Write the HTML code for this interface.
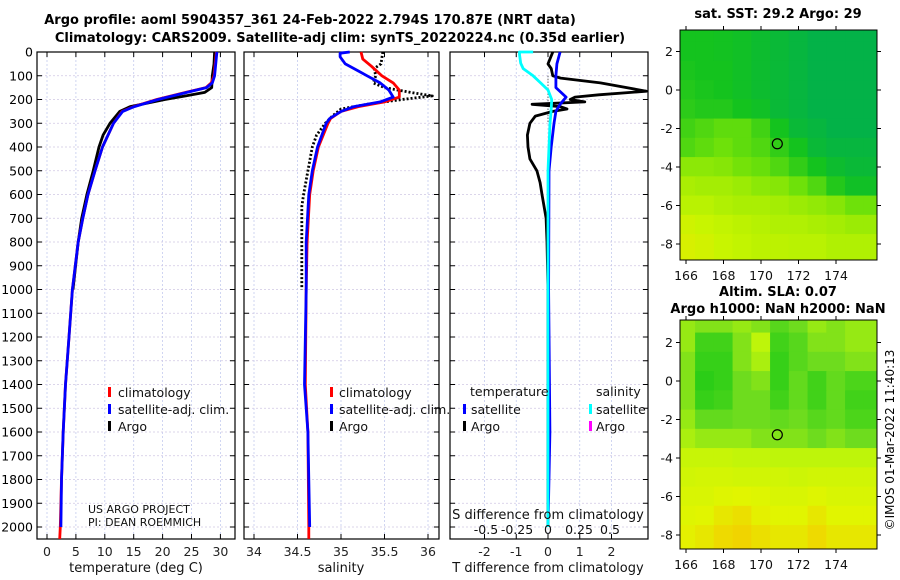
<!DOCTYPE html>
<html><head><meta charset="utf-8"><style>
body{margin:0;background:#fff;}
svg{display:block;font-family:"DejaVu Sans","Liberation Sans",sans-serif;}
</style></head><body>
<svg id="chart" width="900" height="580" viewBox="0 0 900 580">
<text x="310" y="24" text-anchor="middle" font-size="13" font-weight="bold">Argo profile: aoml 5904357_361 24-Feb-2022 2.794S 170.87E (NRT data)</text>
<text x="340" y="42" text-anchor="middle" font-size="13" font-weight="bold">Climatology: CARS2009. Satellite-adj clim: synTS_20220224.nc (0.35d earlier)</text>
<text x="778" y="18" text-anchor="middle" font-size="13" font-weight="bold">sat. SST: 29.2 Argo: 29</text>
<text x="778" y="296" text-anchor="middle" font-size="13" font-weight="bold">Altim. SLA: 0.07</text>
<text x="778" y="313" text-anchor="middle" font-size="13" font-weight="bold">Argo h1000: NaN h2000: NaN</text>
<text transform="translate(894,440) rotate(-90)" text-anchor="middle" font-size="12">©IMOS 01-Mar-2022 11:40:13</text>
<g id="g"></g>
</svg>
<script>
// ---------- data ----------
const depthTicks=[0,100,200,300,400,500,600,700,800,900,1000,1100,1200,1300,1400,1500,1600,1700,1800,1900,2000];
const tempTicks=[0,5,10,15,20,25,30];
const salTicks=[34,34.5,35,35.5,36];
const tdiffTicks=[-2,-1,0,1,2];
const sdiffTicks=[-0.5,-0.25,0,0.25,0.5];
const sdiffLabels=['-0.5','-0.25','0','0.25','0.5'];

const argoTDepth=[0,50,100,150,170,185,200,230,250,300,350,400,500,600,700,800,1000];
const argoT=[29.0,28.9,28.6,28.5,27.3,24,20.4,14.4,12.6,10.9,9.7,9.0,8.0,6.9,6.0,5.4,4.5];
const climDepth=[0,100,130,150,170,200,230,250,300,400,500,600,700,800,1000,1200,1400,1600,1800,2000,2050];
const climT=[29.3,28.9,28.4,27.5,24,19,15,13,11.5,9.6,8.3,7.1,6.2,5.4,4.4,3.8,3.2,2.8,2.5,2.3,2.2];
const satTDepth=[0,100,130,150,170,200,230,250,300,400,500,600,700,800,1000,1200,1400,1600,1800,2000];
const satT=[29.4,29.0,28.6,27.6,24.2,19.2,15.1,13.1,11.5,9.6,8.3,7.1,6.2,5.4,4.4,3.8,3.2,2.8,2.5,2.4];

const argoSDepth=[0,50,70,100,130,150,170,185,200,220,240,270,300,350,400,500,600,650,700,800,1000];
const argoS=[35.48,35.46,35.38,35.40,35.37,35.5,35.8,36.05,35.7,35.3,35.0,34.9,34.82,34.72,34.67,34.62,34.57,34.55,34.55,34.55,34.55];
const climSDepth=[0,30,60,100,130,160,190,210,230,250,280,300,400,500,600,800,1000,1400,1600,2000,2050];
const climS=[35.23,35.25,35.35,35.47,35.6,35.67,35.67,35.5,35.2,35.0,34.88,34.85,34.74,34.68,34.64,34.61,34.6,34.59,34.62,34.63,34.63];
const satSDepth=[0,5,20,50,80,100,130,160,190,210,230,250,280,300,400,500,600,800,1000,1400,1600,2000];
const satS=[35.1,34.99,34.99,35.05,35.2,35.3,35.45,35.55,35.6,35.45,35.15,35.0,34.87,34.83,34.73,34.67,34.63,34.6,34.6,34.58,34.62,34.64];

const argoTdDepth=[0,50,70,100,110,130,165,180,190,200,210,220,230,240,250,270,300,350,400,450,500,550,600,700,800,1000,2000];
const argoTd=[0.15,0,0.1,0.15,0.4,1.65,3.1,1.6,0.85,0.7,1.16,-0.5,0.38,0.6,0.15,-0.4,-0.57,-0.65,-0.63,-0.57,-0.35,-0.25,-0.19,-0.06,-0.03,0,0];
const satTdDepth=[0,50,100,150,190,220,250,300,400,500,1000,1600,2000];
const satTd=[0.38,0.28,0.25,0.25,0.57,0.38,0.25,0.19,0.1,0.03,0.02,0.06,0];
const satSdDepth=[0,0,10,47,70,100,130,160,200,250,300,500,1000,2000];
const satSd=[-0.12,-0.23,-0.23,-0.22,-0.2,-0.12,-0.06,0,0.03,0.025,0.016,0,0,0];

const mapLons=[166,167,168,169,170,171,172,173,174,175,176];
const mapLats=[3,2,1,0,-1,-2,-3,-4,-5,-6,-7,-8,-9];
const sstGrid=[
[.30,.30,.28,.25,.2,.15,.1,.05,.05,.05,.05],
[.30,.30,.28,.25,.2,.15,.1,.05,.05,.05,.05],
[.32,.3,.3,.25,.2,.15,.1,.05,.05,.05,.05],
[.35,.32,.3,.25,.2,.15,.1,.05,.05,.05,.05],
[.38,.35,.35,.3,.25,.15,.1,.05,.05,.05,.05],
[.45,.5,.55,.55,.45,.3,.15,.1,.05,.05,.05],
[.5,.55,.6,.55,.5,.4,.3,.15,.1,.1,.1],
[.7,.7,.68,.62,.58,.5,.4,.3,.2,.15,.15],
[.8,.78,.78,.75,.7,.68,.6,.5,.35,.25,.25],
[.85,.85,.82,.8,.8,.78,.75,.72,.68,.6,.6],
[.92,.9,.88,.86,.84,.82,.82,.8,.78,.75,.75],
[.95,.93,.9,.88,.86,.86,.85,.85,.82,.82,.82],
[.95,.93,.9,.88,.86,.86,.85,.85,.82,.82,.82]];
const slaGrid=[
[.5,.45,.45,.5,.45,.3,.4,.5,.45,.5,.5],
[.5,.2,.2,.45,.6,.2,.3,.45,.45,.5,.5],
[.45,.15,.15,.45,.55,.15,.3,.4,.4,.45,.45],
[.45,.1,.15,.4,.45,.15,.35,.2,.35,.25,.25],
[.45,.15,.2,.4,.4,.2,.35,.2,.35,.2,.2],
[.5,.35,.35,.4,.4,.35,.4,.3,.35,.25,.25],
[.55,.5,.5,.5,.45,.45,.45,.4,.45,.4,.4],
[.65,.65,.65,.62,.62,.6,.6,.6,.6,.6,.6],
[.7,.72,.72,.7,.7,.7,.68,.7,.7,.7,.7],
[.75,.75,.78,.8,.78,.75,.75,.78,.75,.75,.75],
[.78,.8,.85,.88,.82,.8,.8,.85,.8,.8,.8],
[.82,.85,.9,.92,.88,.85,.85,.9,.85,.85,.85],
[.82,.85,.9,.92,.88,.85,.85,.9,.85,.85,.85]];
const mapLonTicks=[166,168,170,172,174];
const mapLatTicks=[2,0,-2,-4,-6,-8];
const argoLon=170.87, argoLat=-2.794;

// ---------- drawing ----------
const NS='http://www.w3.org/2000/svg';
const G=document.getElementById('g');
function mk(tag,attrs,parent){const e=document.createElementNS(NS,tag);for(const k in attrs)e.setAttribute(k,attrs[k]);(parent||G).appendChild(e);return e;}
const Y0=52,YK=0.2375;
const yD=d=>Y0+d*YK;
const PB=539;

function panel(name,x0,x1,xs,xticks,labels,showY){
  const g=mk('g',{});
  
  
  xticks.forEach(t=>{const l=mk('line',{x1:xs(t),x2:xs(t),y1:Y0,y2:PB,stroke:'#c4cbee','stroke-width':0.8,'stroke-dasharray':'2,2'},g);});
  depthTicks.forEach(d=>{const l=mk('line',{x1:x0,x2:x1,y1:yD(d),y2:yD(d),stroke:'#d0c8e4','stroke-width':0.8,'stroke-dasharray':'2,2'},g);
    mk('line',{x1:x0,x2:x0+5,y1:yD(d),y2:yD(d),stroke:'#000'},g);mk('line',{x1:x1-5,x2:x1,y1:yD(d),y2:yD(d),stroke:'#000'},g);
    if(showY){const t=mk('text',{x:x0-4,y:yD(d)+4.5,'text-anchor':'end','font-size':12.5},g);t.textContent=d;}
  });
  xticks.forEach((t,i)=>{mk('line',{x1:xs(t),x2:xs(t),y1:PB-5,y2:PB,stroke:'#000'},g);mk('line',{x1:xs(t),x2:xs(t),y1:Y0,y2:Y0+5,stroke:'#000'},g);
    const tx=mk('text',{x:xs(t),y:556,'text-anchor':'middle','font-size':12.5,fill:'#222'},g);tx.textContent=labels?labels[i]:t;});
  const r=mk('rect',{x:x0,y:Y0,width:x1-x0,height:PB-Y0,fill:'none',stroke:'#000','stroke-width':1.2},g);
  
  return g;
}
function line(g,name,xs,vals,depths,color,w,dash){
  const pts=vals.map((v,i)=>xs(v).toFixed(1)+','+yD(depths[i]).toFixed(1)).join(' ');
  const p=mk('polyline',{points:pts,fill:'none',stroke:color,'stroke-width':w,'stroke-linejoin':'round','stroke-dasharray':dash||'none'},g);
  
}
function txt(x,y,s,name,size,anchor){const t=mk('text',{x:x,y:y,'font-size':size||12.5,'text-anchor':anchor||'start',fill:'#111'});t.textContent=s;return t;}
function mark(x,y,color,name){const r=mk('rect',{x:x,y:y-10,width:3,height:10,fill:color});}

// Panel 1 temperature
const xT=v=>47+5.78*v;
const p1=panel('temperature-panel',37,235,xT,tempTicks,null,true);
line(p1,'argo-temperature-line',xT,argoT,argoTDepth,'#000',2.8);
line(p1,'climatology-temperature-line',xT,climT,climDepth,'#f00',2.8);
line(p1,'satellite-temperature-line',xT,satT,satTDepth,'#00f',2.8);
txt(136,572,'temperature (deg C)','temperature-axis-title',13,'middle');
mark(108,397,'#f00','legend-climatology-marker');txt(118,397,'climatology','legend-climatology');
mark(108,414,'#00f','legend-satellite-marker');txt(118,414,'satellite-adj. clim.','legend-satellite');
mark(108,431,'#000','legend-argo-marker');txt(118,431,'Argo','legend-argo');
txt(88,513,'US ARGO PROJECT','project-label',11);
txt(88,526,'PI: DEAN ROEMMICH','pi-label',11);

// Panel 2 salinity
const xS=v=>254+87*(v-34);
const p2=panel('salinity-panel',244,439,xS,salTicks,null,false);
line(p2,'argo-salinity-line',xS,argoS,argoSDepth,'#000',2.8,'2,2');
line(p2,'climatology-salinity-line',xS,climS,climSDepth,'#f00',2.8);
line(p2,'satellite-salinity-line',xS,satS,satSDepth,'#00f',2.8);
txt(341,572,'salinity','salinity-axis-title',13,'middle');
mark(330,397,'#f00','legend-climatology-marker-2');txt(339,397,'climatology','legend-climatology-2');
mark(330,414,'#00f','legend-satellite-marker-2');txt(339,414,'satellite-adj. clim.','legend-satellite-2');
mark(330,431,'#000','legend-argo-marker-2');txt(339,431,'Argo','legend-argo-2');

// Panel 3 differences
const xTd=v=>548+31.75*v;
const xSd=v=>548+124*v;
const p3=panel('difference-panel',450,648,xTd,tdiffTicks,null,false);
mk('line',{x1:548,x2:548,y1:yD(100),y2:yD(300),stroke:'#333','stroke-dasharray':'1,2'},p3);
line(p3,'argo-temperature-difference-line',xTd,argoTd,argoTdDepth,'#000',2.8);
line(p3,'satellite-temperature-difference-line',xTd,satTd,satTdDepth,'#00f',2.8);
line(p3,'satellite-salinity-difference-line',xSd,satSd,satSdDepth,'#0ff',2.8);
txt(548,572,'T difference from climatology','t-difference-axis-title',13,'middle');
txt(548,519,'S difference from climatology','s-difference-axis-title',13,'middle');
sdiffTicks.forEach((t,i)=>txt(xSd(t),534,sdiffLabels[i],'s-difference-tick-label',12.5,'middle'));
txt(470,396,'temperature','legend-temperature-heading');
mark(463,414,'#00f','legend-t-satellite-marker');txt(471,414,'satellite','legend-t-satellite');
mark(463,431,'#000','legend-t-argo-marker');txt(471,431,'Argo','legend-t-argo');
txt(596,396,'salinity','legend-salinity-heading');
mark(589,414,'#0ff','legend-s-satellite-marker');txt(596,414,'satellite','legend-s-satellite');
mark(589,431,'#f0f','legend-s-argo-marker');txt(596,431,'Argo','legend-s-argo');

// Maps
function lerpC(stops,v){for(let i=1;i<stops.length;i++){if(v<=stops[i][0]){const a=stops[i-1],b=stops[i],f=(v-a[0])/(b[0]-a[0]);return 'rgb('+[1,2,3].map(k=>Math.round(a[k]+(b[k]-a[k])*f)).join(',')+')';}}const l=stops[stops.length-1];return 'rgb('+l[1]+','+l[2]+','+l[3]+')';}
const sstStops=[[0,0,175,80],[0.3,20,195,30],[0.6,110,225,10],[0.9,200,245,0],[1,230,235,0]];
const slaStops=[[0,20,200,20],[0.4,110,220,30],[0.6,190,245,10],[0.8,225,245,0],[1,250,190,0]];
function map(name,top,bottom,lat0y,grid,stops){
  const g=mk('g',{});
  const L=680,R=877,xL=v=>686+18.75*(v-166),yL=v=>lat0y-19.25*v;
  const cp=mk('clipPath',{id:'cp'+name},g);mk('rect',{x:L,y:top,width:R-L,height:bottom-top},cp);
  const cg=mk('g',{'clip-path':'url(#cp'+name+')'},g);
  mapLats.forEach((la,i)=>mapLons.forEach((lo,j)=>{
    const c=mk('rect',{x:xL(lo-0.5)-0.3,y:yL(la+0.5)-0.3,width:18.75+0.6,height:19.25+0.6,fill:lerpC(stops,grid[i][j])},cg);
    
  }));
  mk('rect',{x:L,y:top,width:R-L,height:bottom-top,fill:'none',stroke:'#000','stroke-width':1},g);
  mapLonTicks.forEach(t=>{mk('line',{x1:xL(t),x2:xL(t),y1:bottom,y2:bottom+4,stroke:'#000'},g);mk('line',{x1:xL(t),x2:xL(t),y1:top-4,y2:top,stroke:'#000'},g);
    txt(xL(t),bottom+20,String(t),'lon-tick-label',12.5,'middle');});
  mapLatTicks.forEach(t=>{mk('line',{x1:L-4,x2:L,y1:yL(t),y2:yL(t),stroke:'#000'},g);mk('line',{x1:R,x2:R+4,y1:yL(t),y2:yL(t),stroke:'#000'},g);
    txt(L-7,yL(t)+4.5,String(t),'lat-tick-label',12.5,'end');});
  const c=mk('circle',{cx:xL(argoLon),cy:yL(argoLat),r:5,fill:'none',stroke:'#000','stroke-width':1.2},g);
  
}
map('sst-map',30,260,90,sstGrid,sstStops);
map('sla-map',320,549,381,slaGrid,slaStops);
</script>
</body></html>
